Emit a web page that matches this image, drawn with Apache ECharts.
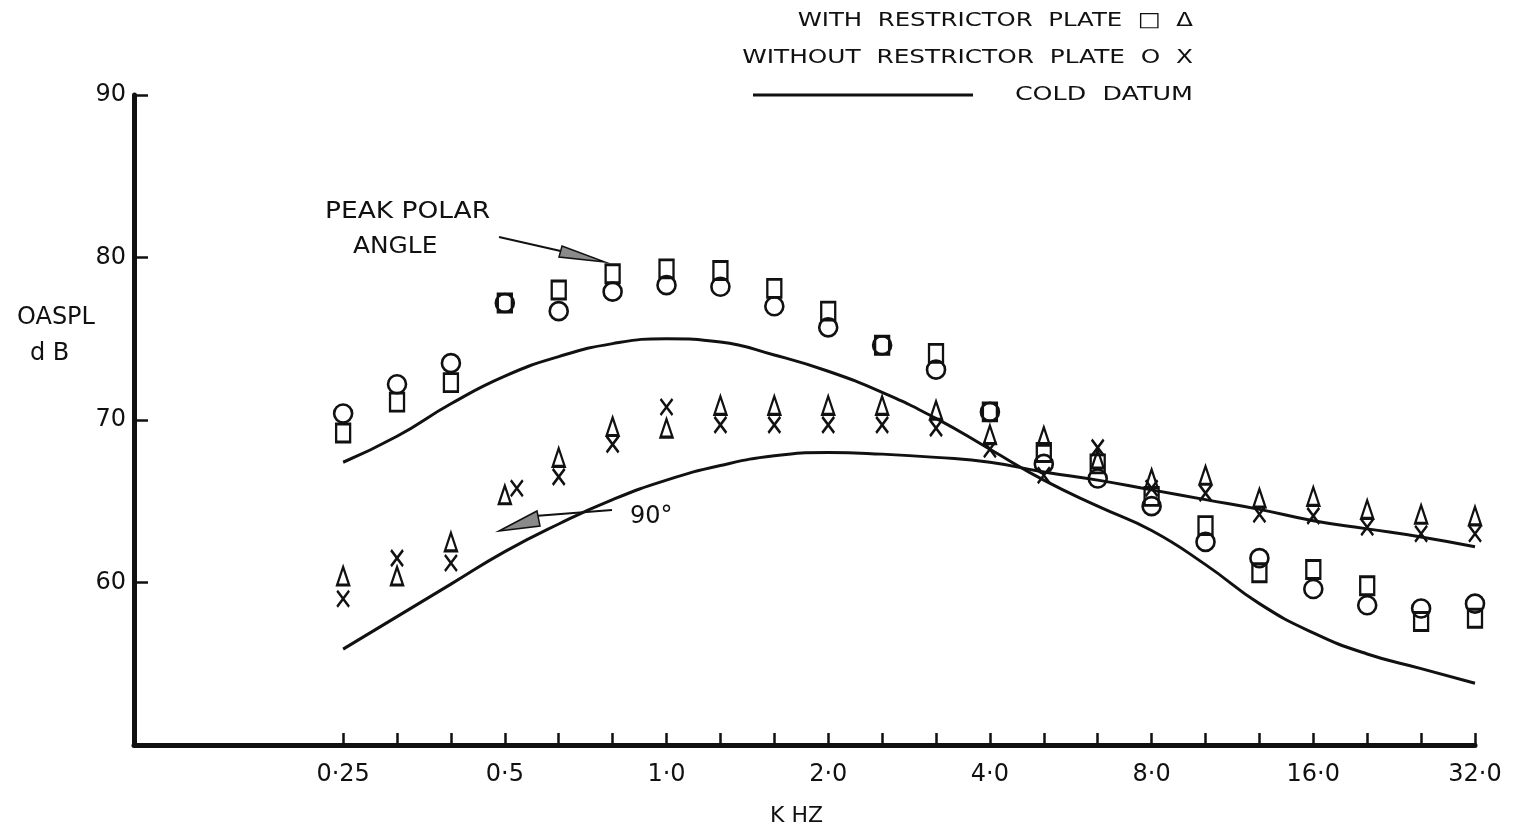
<!DOCTYPE html>
<html><head><meta charset="utf-8">
<script src="https://cdn.jsdelivr.net/npm/echarts@6/dist/echarts.min.js"></script>
<style>html,body{margin:0;padding:0;background:#fff}#c{width:1528px;height:839px}</style>
</head><body><div id="c"></div>
<script>
// One-third-octave band centre frequencies (kHz)
const bandsKHz = [0.25,0.315,0.4,0.5,0.63,0.8,1.0,1.25,1.6,2.0,2.5,3.15,4.0,5.0,6.3,8.0,10,12.5,16,20,25,31.5];
const tickLabels = ['0·25','','','0·5','','','1·0','','','2·0','','','4·0','','','8·0','','','16·0','','','32·0'];
const yTickValues = [60,70,80,90];

// Peak polar angle
const withPlatePeak    = [69.2,71.1,72.3,77.2,78.0,79.0,79.3,79.2,78.1,76.7,74.6,74.1,70.5,68.0,67.3,65.3,63.5,60.6,60.8,59.8,57.6,57.8]; // squares
const withoutPlatePeak = [70.4,72.2,73.5,77.2,76.7,77.9,78.3,78.2,77.0,75.7,74.6,73.1,70.5,67.3,66.4,64.7,62.5,61.5,59.6,58.6,58.4,58.7]; // circles
// 90 degrees
const withPlate90      = [60.4,60.4,62.5,65.4,67.7,69.6,69.5,70.9,70.9,70.9,70.9,70.6,69.1,69.0,67.6,66.4,66.6,65.2,65.3,64.5,64.2,64.1]; // triangles
const withoutPlate90   = [59.0,61.5,61.2,65.8,66.5,68.5,70.8,69.7,69.7,69.7,69.7,69.5,68.2,66.6,68.3,65.8,65.5,64.2,64.1,63.4,63.0,63.0]; // crosses
// Cold datum curves
const coldDatumPeak    = [67.4,69.0,71.0,72.7,73.9,74.7,75.0,74.8,74.0,73.0,71.7,70.1,68.2,66.3,64.7,63.2,61.1,58.7,56.9,55.6,54.7,53.8];
const coldDatum90      = [55.9,57.9,59.9,61.9,63.6,65.1,66.3,67.2,67.8,68.0,67.9,67.7,67.4,66.8,66.3,65.7,65.1,64.5,63.8,63.3,62.8,62.2];

const ink = '#111';
const FONT = '"DejaVu Sans", sans-serif';
const bandIdx = bandsKHz.map((_, i) => i);
const labelIdx = bandIdx.filter(i => tickLabels[i] !== '');
const toPts = arr => arr.map((v, i) => [i, v]);

const hollow = { color: 'transparent', borderColor: ink, borderWidth: 2.6, opacity: 1 };
const crossPath = 'path://M0,0L10,14M10,0L0,14';

function scatter(name, arr, symbol, size) {
  return {
    name, type: 'scatter', data: toPts(arr), symbol, symbolSize: size,
    itemStyle: hollow, z: 4, silent: true
  };
}
function curve(name, arr) {
  return { name, type: 'line', data: toPts(arr), smooth: 0.5, symbol: 'none',
    lineStyle: { color: ink, width: 3 }, z: 3, silent: true };
}

// the cross at 0.5 kHz is drawn beside its triangle in the original
const crossData = toPts(withoutPlate90).map((p, i) => i === 3 ? { value: p, symbolOffset: [12, 0] } : p);

const chart = echarts.init(document.getElementById('c'), null, { renderer: 'canvas' });
chart.setOption({
  backgroundColor: '#fff',
  animation: false,
  grid: { left: 134, right: 53, top: 95, bottom: 94 },
  xAxis: {
    type: 'value', min: -3.88, max: 21,
    axisLine: { onZero: false, lineStyle: { color: ink, width: 5 } },
    axisTick: { inside: true, length: 12, lineStyle: { color: ink, width: 2.5 }, customValues: bandIdx },
    axisLabel: { customValues: labelIdx, formatter: v => tickLabels[Math.round(v)] || '',
      color: ink, fontFamily: FONT, fontSize: 24, margin: 18 },
    splitLine: { show: false }
  },
  yAxis: {
    type: 'value', min: 50, max: 90, interval: 10,
    axisLine: { show: true, onZero: false, lineStyle: { color: ink, width: 5 } },
    axisTick: { show: true, inside: true, length: 14, lineStyle: { color: ink, width: 2.5 }, customValues: yTickValues },
    axisLabel: { customValues: yTickValues, color: ink, fontFamily: FONT, fontSize: 24, margin: 8 },
    splitLine: { show: false }
  },
  series: [
    curve('Cold datum (peak)', coldDatumPeak),
    curve('Cold datum (90°)', coldDatum90),
    scatter('With restrictor plate (peak)', withPlatePeak, 'rect', [14, 18]),
    scatter('Without restrictor plate (peak)', withoutPlatePeak, 'circle', 18),
    scatter('With restrictor plate (90°)', withPlate90, 'triangle', [12, 18]),
    Object.assign(scatter('Without restrictor plate (90°)', [], crossPath, [12, 16]), { data: crossData })
  ],
  graphic: [
    { type: 'text', x: 1193, y: 21, scaleX: 1.22, style: { text: 'WITH  RESTRICTOR  PLATE  □  Δ', font: '20px ' + FONT, fill: ink, textAlign: 'right', textVerticalAlign: 'middle' } },
    { type: 'text', x: 1193, y: 58, scaleX: 1.24, style: { text: 'WITHOUT  RESTRICTOR  PLATE  O  X', font: '20px ' + FONT, fill: ink, textAlign: 'right', textVerticalAlign: 'middle' } },
    { type: 'text', x: 1193, y: 95, scaleX: 1.27, style: { text: 'COLD  DATUM', font: '20px ' + FONT, fill: ink, textAlign: 'right', textVerticalAlign: 'middle' } },
    { type: 'line', shape: { x1: 753, y1: 95, x2: 973, y2: 95 }, style: { stroke: ink, lineWidth: 3 } },

    { type: 'text', x: 325, y: 212, scaleX: 1.15, style: { text: 'PEAK POLAR', font: '23px ' + FONT, fill: ink, textAlign: 'left', textVerticalAlign: 'middle' } },
    { type: 'text', x: 353, y: 247, scaleX: 1.08, style: { text: 'ANGLE', font: '23px ' + FONT, fill: ink, textAlign: 'left', textVerticalAlign: 'middle' } },
    { type: 'line', shape: { x1: 499, y1: 237, x2: 565, y2: 252 }, style: { stroke: ink, lineWidth: 2 } },
    { type: 'polygon', shape: { points: [[605, 262], [559, 257], [562, 246]] }, style: { fill: '#8a8a8a', stroke: ink, lineWidth: 1.5 } },

    { type: 'text', x: 630, y: 517, style: { text: '90°', font: '24px ' + FONT, fill: ink, textAlign: 'left', textVerticalAlign: 'middle' } },
    { type: 'line', shape: { x1: 535, y1: 516, x2: 612, y2: 510 }, style: { stroke: ink, lineWidth: 2 } },
    { type: 'polygon', shape: { points: [[499, 531], [537, 511], [540, 526]] }, style: { fill: '#8a8a8a', stroke: ink, lineWidth: 1.5 } },

    { type: 'text', x: 17, y: 318, style: { text: 'OASPL', font: '24px ' + FONT, fill: ink, textAlign: 'left', textVerticalAlign: 'middle' } },
    { type: 'text', x: 30, y: 354, style: { text: 'd B', font: '24px ' + FONT, fill: ink, textAlign: 'left', textVerticalAlign: 'middle' } },
    { type: 'text', x: 770, y: 816, style: { text: 'K HZ', font: '22px ' + FONT, fill: ink, textAlign: 'left', textVerticalAlign: 'middle' } }
  ]
});
</script></body></html>
